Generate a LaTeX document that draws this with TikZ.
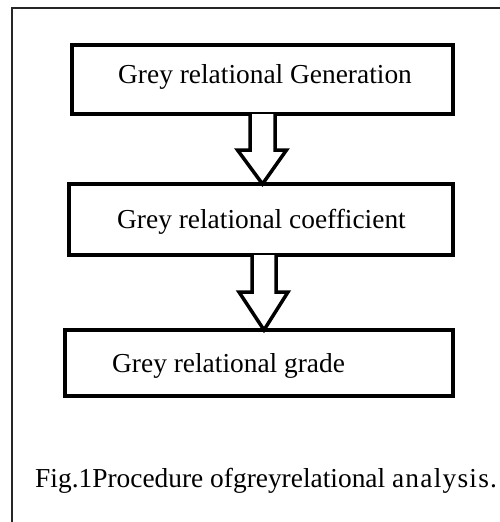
\documentclass[tikz,border=0pt]{standalone}
\usepackage{fontspec}
\setmainfont{Liberation Serif}
\usetikzlibrary{calc}
\begin{document}
\begin{tikzpicture}[x=1pt,y=-1pt,
  stagebox/.style={draw=black,line width=4pt,inner sep=0pt,outer sep=0pt,fill=white},
  blockarrow/.style={draw=black,line width=3.5pt,fill=white,line join=miter},
  lbl/.style={anchor=base west,inner sep=0pt,font=\fontsize{27.4}{30}\selectfont},
  frameline/.style={draw=black!85,line width=1.6pt}]
\useasboundingbox (0,0) rectangle (500,522);
\draw[frameline] (12,523) -- (12,8) -- (501,8);
\node[stagebox,minimum width=381pt,minimum height=69pt] (a) at (262.5,79.5) {};
\node[stagebox,minimum width=384pt,minimum height=71pt] (b) at (261,219.5) {};
\node[stagebox,minimum width=388pt,minimum height=66pt] (c) at (259,363) {};
\node[lbl] (ta) at (118,83) {Grey relational Generation};
\node[lbl] (tb) at (117,228) {Grey relational coefficient};
\node[lbl] (tc) at (112,372) {Grey relational grade};
\node[lbl] (cap) at (35,487) {Fig.1Procedure ofgreyrelational {\addfontfeatures{LetterSpace=4.5}analysis.}};
% arrow a -> b
\coordinate (ao) at (a.south);
\draw[blockarrow] ($(ao)+(-12.5,0)$) -- ($(ao)+(-12.5,36)$) -- ($(ao)+(-25,36)$)
  -- (ao |- b.north) -- ($(ao)+(24,36)$) -- ($(ao)+(12.5,36)$) -- ($(ao)+(12.5,0)$);
% arrow b -> c
\coordinate (bo) at ($(b.south)+(3,0)$);
\draw[blockarrow] ($(bo)+(-12,0)$) -- ($(bo)+(-12,37)$) -- ($(bo)+(-25,37)$)
  -- (bo |- c.north) -- ($(bo)+(24,37)$) -- ($(bo)+(12,37)$) -- ($(bo)+(12,0)$);
\end{tikzpicture}
\end{document}
